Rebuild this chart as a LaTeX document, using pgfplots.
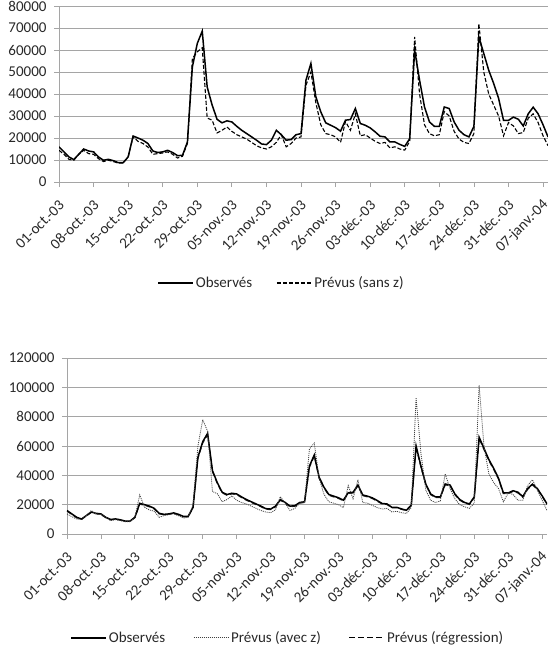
\documentclass[border=0pt]{standalone}
\usepackage{fontspec}
\setmainfont{Carlito}
\usepackage{pgfplots}
\usepackage{pgfplotstable}
\pgfplotsset{compat=1.18}
\pgfplotsset{legend image code/.code={\draw[#1] (0pt,0pt) -- (35pt,0pt);}}
\definecolor{gridc}{RGB}{165,165,165}
\definecolor{txt}{RGB}{40,40,40}

\pgfplotstableread{
d obs sansz avecz regr
0 16000 14400 13700 15600
1 13700 12600 11800 13300
2 11400 10300 10200 11100
3 10200 9900 9800 10000
4 12600 12600 12500 12300
5 15000 14400 16000 14600
6 14100 12900 13700 13800
7 13700 12600 13200 13300
8 11400 10600 11400 11100
9 9900 9300 9100 9700
10 10300 9900 9800 10000
11 9700 9300 9100 9500
12 8800 8600 8400 8600
13 8800 8600 8400 8600
14 11400 11400 11400 11100
15 20900 20500 26700 20400
16 20000 18500 18200 19500
17 19000 17500 16400 18500
18 17500 15900 15500 17000
19 14100 12600 11400 13700
20 13400 12900 12500 13100
21 13700 13200 13200 13400
22 14400 13700 13700 14000
23 13400 12600 12500 13000
24 12000 10900 10900 11700
25 12100 11700 11400 11800
26 18200 17500 20000 17800
27 52300 56100 60000 51500
28 63000 59200 78000 62000
29 68600 61000 70000 67500
30 43200 29100 29000 42500
31 35000 28100 27500 34300
32 28500 22300 22000 28000
33 26900 23500 23500 26400
34 27800 25000 26000 27300
35 27300 23000 23000 26800
36 25300 21500 21500 24800
37 23500 20500 20500 23000
38 22000 19500 19000 21500
39 20500 18000 17500 20000
40 19000 16500 16000 18600
41 17300 15500 15000 16900
42 17000 15000 14500 16600
43 19000 16000 16500 18500
44 23500 18000 25500 23000
45 21500 21500 21000 21000
46 19000 16000 16000 18600
47 19300 17500 17500 18900
48 21500 20000 21000 21000
49 22000 20500 22000 21500
50 46300 44000 58000 45500
51 53900 50000 62000 53000
52 38700 36000 38000 38000
53 31900 26000 27000 31300
54 26900 22000 22000 26400
55 25800 21500 21000 25300
56 24700 20500 20000 24200
57 23100 18000 18000 22600
58 28100 27500 33000 27600
59 28400 23500 24000 27900
60 33400 31000 37000 32800
61 26600 21000 21500 26100
62 25800 21500 21000 25300
63 24600 20000 19500 24100
64 22800 18500 18000 22300
65 20800 17500 17000 20400
66 20500 18000 17500 20100
67 18200 15500 15000 17800
68 18200 16000 15500 17800
69 17100 15000 14500 16800
70 16200 14500 14000 15900
71 19700 18500 18000 19300
72 60000 66000 93000 59000
73 46300 40000 55000 45500
74 34100 26000 30000 33500
75 27300 22000 23000 26800
76 25300 21000 21500 24800
77 25300 21500 22500 24800
78 34100 32000 41000 33500
79 33400 30000 31000 32800
80 27300 23000 24000 26800
81 23500 19500 20000 23000
82 21500 18000 18500 21100
83 20500 17500 17500 20100
84 25300 22000 21000 24800
85 66000 72000 101500 65000
86 58400 50000 60000 57500
87 50800 40000 41000 50000
88 44800 35000 35000 44000
89 38000 30000 31000 37300
90 28000 21000 22000 27500
91 28000 27000 28000 27500
92 29500 25500 27000 29000
93 28500 22000 23000 28000
94 25500 22500 23000 25000
95 31000 29000 33000 30400
96 34000 31000 37000 33400
97 31000 27000 30000 30400
98 26000 21000 23000 25500
99 20500 16500 16000 20100
}\datatable

\pgfplotsset{
  mystyle/.style={
    scale only axis,
    anchor=south west,
    xmin=0, xmax=99, ymin=0,
    xtick={0,7,...,98},
    xticklabels={01-oct.-03,08-oct.-03,15-oct.-03,22-oct.-03,29-oct.-03,05-nov.-03,12-nov.-03,19-nov.-03,26-nov.-03,03-déc.-03,10-déc.-03,17-déc.-03,24-déc.-03,31-déc.-03,07-janv.-04},
    axis x line*=bottom, axis y line*=left,
    axis line style={draw=gridc, line width=0.8pt},
    ymajorgrids, grid style={draw=gridc, line width=0.8pt},
    tick style={draw=gridc, line width=0.8pt},
    tick align=outside, major tick length=5pt,
    scaled y ticks=false,
    yticklabel style={/pgf/number format/fixed, /pgf/number format/1000 sep={}, /pgf/number format/assume math mode=true},
    tick label style={font=\fontsize{15}{17}\selectfont, text=txt},
    x tick label style={xshift=3.5pt, yshift=-15pt, rotate=45, anchor=east, inner sep=1pt},
    y tick label style={xshift=-4pt},
    legend style={draw=none, fill=none, legend columns=-1, font=\fontsize{15}{17}\selectfont, text=txt,
      /tikz/every even column/.append style={column sep=22pt}},
    legend cell align=left,
  }
}

\begin{document}
\begin{tikzpicture}
\path[use as bounding box] (0,0) rectangle (552pt,-664pt);
\begin{axis}[mystyle,
  at={(59pt,-182pt)}, width=489pt, height=176pt,
  ymax=80000, ytick={0,10000,...,80000},
  legend style={at={(0.455,-0.574)}, anchor=center}]
\addplot[black, line width=1.5pt] table[x=d, y=obs] {\datatable};
\addlegendentry{Observés}
\addplot[black, line width=1.1pt, dash pattern=on 4pt off 2pt] table[x=d, y=sansz] {\datatable};
\addlegendentry{Prévus (sans z)}
\end{axis}

\begin{axis}[mystyle,
  at={(67pt,-534pt)}, width=480pt, height=176pt,
  ymax=120000, ytick={0,20000,...,120000},
  legend style={at={(0.46,-0.59)}, anchor=center, /tikz/every even column/.append style={column sep=26pt}}]
\addplot[black!80, line width=1.1pt, dash pattern=on 5pt off 3pt, forget plot] table[x=d, y=regr] {\datatable};
\addplot[black, line width=1.5pt] table[x=d, y=obs] {\datatable};
\addlegendentry{Observés}
\addplot[black!75, line width=0.8pt, dash pattern=on 1pt off 1pt] table[x=d, y=avecz] {\datatable};
\addlegendentry{Prévus (avec z)}
\addlegendimage{black, line width=1.1pt, dash pattern=on 6pt off 3pt}
\addlegendentry{Prévus (régression)}
\end{axis}
\end{tikzpicture}
\end{document}
